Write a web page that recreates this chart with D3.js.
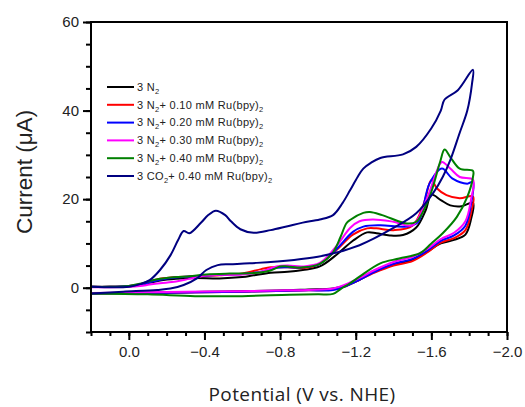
<!DOCTYPE html>
<meta charset="utf-8">
<style>
body { margin: 0; background: #fff; }
.axis text { font: 15px "Liberation Sans", Arial, sans-serif; fill: #222; }
.axis path, .axis line { stroke: #000; stroke-width: 2px; }
.legend text { font: 11px "Liberation Sans", Arial, sans-serif; fill: #222; letter-spacing: 0.3px; }
.xtitle { font: 19px "Open Sans", sans-serif; fill: #222; letter-spacing: 0.4px; }
.ytitle { font: 22.5px "Liberation Sans", Arial, sans-serif; fill: #222; }
.curve { fill: none; stroke-width: 2px; stroke-linejoin: round; }
</style>
<body>
<svg width="525" height="407"></svg>
<script src="https://d3js.org/d3.v7.min.js"></script>
<script>

// potential (V vs NHE), current (uA) -- forward sweep then return sweep
var n2 = [[0.2,0.2],[0.1,0.2],[0.0,0.3],[-0.06,0.6],[-0.11,1.1],[-0.165,1.6],[-0.25,2.0],[-0.35,2.2],[-0.48,2.1],[-0.6,2.4],[-0.66,2.8],[-0.75,3.4],[-0.84,3.6],[-0.92,4.0],[-1.01,4.8],[-1.10,7.5],[-1.185,10.6],[-1.26,12.5],[-1.31,12.3],[-1.38,11.8],[-1.45,11.9],[-1.52,13.6],[-1.57,17.5],[-1.60,21.0],[-1.65,19.8],[-1.70,18.6],[-1.76,18.4],[-1.82,19.2],
  [-1.81,15.5],[-1.78,12.0],[-1.72,10.8],[-1.65,10.0],[-1.58,8.2],[-1.50,6.3],[-1.40,5.2],[-1.30,3.6],[-1.22,1.8],[-1.15,0.5],[-1.08,-0.2],[-0.95,-0.4],[-0.84,-0.6],[-0.6,-0.8],[-0.3,-1.0],[0.0,-1.2],[0.2,-1.3]];

var ru010 = [[0.2,0.2],[0.1,0.2],[0.0,0.4],[-0.06,0.8],[-0.11,1.4],[-0.165,2.0],[-0.25,2.4],[-0.35,2.6],[-0.48,2.8],[-0.6,3.2],[-0.7,4.2],[-0.75,4.6],[-0.84,4.6],[-0.92,4.4],[-1.01,5.4],[-1.10,8.6],[-1.185,12.0],[-1.26,13.4],[-1.31,13.4],[-1.40,13.0],[-1.50,14.0],[-1.56,19.0],[-1.60,24.3],[-1.63,22.4],[-1.68,20.9],[-1.75,20.2],[-1.82,20.6],
  [-1.81,17.0],[-1.78,13.0],[-1.72,11.2],[-1.65,10.2],[-1.58,8.0],[-1.50,6.0],[-1.40,5.0],[-1.30,3.4],[-1.22,1.8],[-1.15,0.4],[-1.08,-0.4],[-0.95,-0.6],[-0.84,-0.7],[-0.6,-0.9],[-0.3,-1.1],[0.0,-1.2],[0.2,-1.3]];

var ru020 = [[0.2,0.2],[0.1,0.2],[0.0,0.4],[-0.06,0.7],[-0.11,1.2],[-0.165,1.8],[-0.25,2.3],[-0.35,2.6],[-0.48,2.9],[-0.6,3.1],[-0.7,3.6],[-0.78,4.5],[-0.84,4.6],[-0.92,4.6],[-1.01,5.4],[-1.10,8.8],[-1.185,12.6],[-1.24,13.8],[-1.33,14.1],[-1.47,13.8],[-1.53,14.9],[-1.59,23.5],[-1.656,26.9],[-1.71,24.7],[-1.79,23.5],[-1.82,23.9],
  [-1.81,19.0],[-1.78,14.0],[-1.72,11.8],[-1.65,10.6],[-1.58,8.4],[-1.50,6.5],[-1.40,5.4],[-1.30,3.6],[-1.22,1.8],[-1.15,0.4],[-1.08,-0.5],[-0.95,-0.6],[-0.84,-0.7],[-0.6,-0.9],[-0.3,-1.1],[0.0,-1.2],[0.2,-1.3]];

var ru030 = [[0.2,0.1],[0.1,0.1],[0.0,0.2],[-0.06,0.4],[-0.11,0.7],[-0.165,1.0],[-0.25,1.4],[-0.32,2.0],[-0.4,2.7],[-0.48,2.9],[-0.6,3.0],[-0.7,3.6],[-0.78,4.8],[-0.84,5.0],[-0.92,4.8],[-1.01,5.6],[-1.10,9.5],[-1.17,13.5],[-1.22,15.0],[-1.29,15.4],[-1.40,14.9],[-1.50,14.1],[-1.58,20.5],[-1.63,26.5],[-1.656,28.4],[-1.70,26.9],[-1.75,25.0],[-1.82,24.4],
  [-1.81,20.0],[-1.78,15.0],[-1.72,12.4],[-1.65,11.0],[-1.58,8.8],[-1.50,7.0],[-1.40,5.8],[-1.30,4.0],[-1.22,2.2],[-1.15,0.8],[-1.08,-0.2],[-0.95,-0.5],[-0.84,-0.6],[-0.6,-0.8],[-0.3,-0.9],[0.0,-1.1],[0.2,-1.2]];

var ru040 = [[0.2,0.2],[0.1,0.2],[0.0,0.4],[-0.06,0.9],[-0.11,1.5],[-0.165,2.0],[-0.2,2.2],[-0.32,2.6],[-0.41,3.0],[-0.535,3.2],[-0.66,3.3],[-0.75,3.9],[-0.8,4.8],[-0.84,4.8],[-0.92,4.6],[-1.01,5.4],[-1.08,8.0],[-1.12,11.5],[-1.15,14.5],[-1.17,15.3],[-1.24,16.9],[-1.275,17.1],[-1.34,16.4],[-1.47,14.5],[-1.52,14.9],[-1.59,20.5],[-1.646,28.4],[-1.67,31.2],[-1.70,29.5],[-1.75,26.9],[-1.82,26.4],
  [-1.82,25.0],[-1.79,20.5],[-1.735,16.0],[-1.66,12.3],[-1.60,10.0],[-1.54,7.8],[-1.43,6.6],[-1.33,5.5],[-1.22,2.5],[-1.17,1.0],[-1.12,-0.3],[-1.08,-1.4],[-1.0,-1.5],[-0.85,-1.6],[-0.6,-1.9],[-0.35,-1.9],[-0.1,-1.5],[0.2,-1.3]];

var co2 = [[0.2,0.2],[0.0,0.2],[-0.06,0.8],[-0.11,1.7],[-0.165,4.0],[-0.22,7.3],[-0.26,10.7],[-0.29,12.8],[-0.32,12.3],[-0.38,14.6],[-0.42,16.4],[-0.46,17.4],[-0.51,16.4],[-0.54,15.0],[-0.59,13.2],[-0.66,12.4],[-0.75,13.0],[-0.84,13.9],[-0.92,14.7],[-1.01,15.4],[-1.08,16.4],[-1.13,19.1],[-1.17,22.0],[-1.21,25.0],[-1.24,26.9],[-1.28,28.2],[-1.33,29.3],[-1.45,30.1],[-1.52,31.8],[-1.60,36.0],[-1.65,40.0],[-1.67,42.5],[-1.74,44.6],[-1.82,49.2],
  [-1.815,46.1],[-1.79,40.0],[-1.75,35.0],[-1.70,28.8],[-1.66,25.0],[-1.61,21.4],[-1.52,16.8],[-1.40,13.5],[-1.22,9.6],[-1.0,7.0],[-0.64,5.5],[-0.535,5.3],[-0.47,5.1],[-0.41,4.0],[-0.36,2.1],[-0.29,0.6],[-0.22,-0.2],[-0.15,-0.5],[0.03,-0.9],[0.2,-1.3]];

var series = [n2, ru010, ru020, ru030, ru040, co2];
var colors = ["#000000", "#ff0000", "#0000ff", "#ff00ff", "#008000", "#000080"];
var labels = ["3 N_2", "3 N_2+ 0.10 mM Ru(bpy)_2", "3 N_2+ 0.20 mM Ru(bpy)_2",
              "3 N_2+ 0.30 mM Ru(bpy)_2", "3 N_2+ 0.40 mM Ru(bpy)_2", "3 CO_2+ 0.40 mM Ru(bpy)_2"];

var xMajor = [0.0, -0.4, -0.8, -1.2, -1.6, -2.0];
var xMinor = d3.range(2, -21, -1).map(function(d) { return d / 10; });
var yMajor = [0, 20, 40, 60];
var yMinor = d3.range(-10, 61, 5);

var svg = d3.select("svg"),
    margin = {top: 22, right: 18, bottom: 75, left: 91},
    width = +svg.attr("width") - margin.left - margin.right,
    height = +svg.attr("height") - margin.top - margin.bottom,
    g = svg.append("g").attr("transform", "translate(" + margin.left + "," + margin.top + ")");

var x = d3.scaleLinear().domain([0.2, -2.0]).range([0, width]);
var y = d3.scaleLinear().domain([-10, 60]).range([height, 0]);

var line = d3.line()
    .curve(d3.curveCatmullRom.alpha(0.5))
    .x(function(d) { return x(d[0]); })
    .y(function(d) { return y(d[1]); });

g.selectAll(".curve")
  .data(series)
  .enter().append("path")
    .attr("class", "curve")
    .attr("stroke", function(d, i) { return colors[i]; })
    .attr("d", line);

// minor ticks
g.append("g").attr("class", "axis")
    .attr("transform", "translate(0," + height + ")")
    .call(d3.axisBottom(x).tickValues(xMinor).tickSize(4).tickFormat(""))
    .select(".domain").remove();
g.append("g").attr("class", "axis")
    .call(d3.axisLeft(y).tickValues(yMinor).tickSize(5).tickFormat(""))
    .select(".domain").remove();

// major ticks
g.append("g").attr("class", "axis")
    .attr("transform", "translate(0," + height + ")")
    .call(d3.axisBottom(x).tickValues(xMajor).tickSize(8).tickPadding(6).tickFormat(d3.format(".1f")))
    .select(".domain").remove();
g.append("g").attr("class", "axis")
    .call(d3.axisLeft(y).tickValues(yMajor).tickSize(8).tickPadding(4).tickFormat(d3.format("d")))
    .select(".domain").remove();

g.append("rect")
    .attr("width", width)
    .attr("height", height)
    .attr("fill", "none")
    .attr("stroke", "#000")
    .attr("stroke-width", 2);

// legend
var legend = g.append("g").attr("class", "legend")
    .attr("transform", "translate(16,65)");

var item = legend.selectAll("g")
  .data(labels)
  .enter().append("g")
    .attr("transform", function(d, i) { return "translate(0," + i * 17.8 + ")"; });

item.append("line")
    .attr("x1", 0).attr("x2", 27)
    .attr("stroke", function(d, i) { return colors[i]; })
    .attr("stroke-width", 2);

item.append("text")
    .attr("x", 30)
    .attr("dy", "0.35em")
    .each(function(d) {
      var t = d3.select(this);
      d.split("_").forEach(function(part, j) {
        if (j === 0) { t.append("tspan").text(part); return; }
        t.append("tspan").attr("dy", 3).style("font-size", "7.5px").text(part.charAt(0));
        if (part.length > 1) t.append("tspan").attr("dy", -3).text(part.slice(1));
      });
    });

svg.append("text")
    .attr("class", "xtitle")
    .attr("text-anchor", "middle")
    .attr("x", 302)
    .attr("y", 401)
    .text("Potential (V vs. NHE)");

svg.append("text")
    .attr("class", "ytitle")
    .attr("text-anchor", "middle")
    .attr("transform", "translate(32,172) rotate(-90)")
    .text("Current (μA)");

</script>
</body>
